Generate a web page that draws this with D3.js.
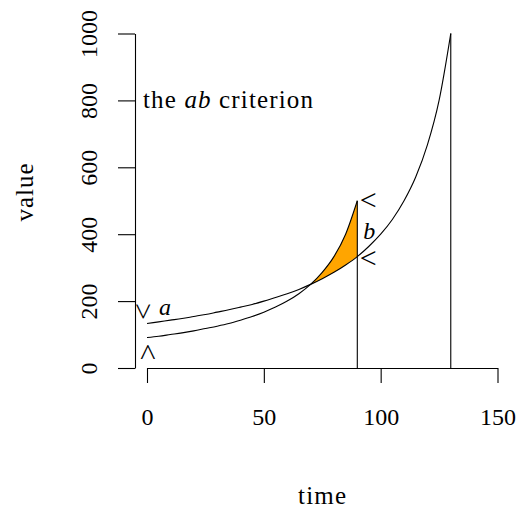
<!DOCTYPE html>
<html>
<head>
<meta charset="utf-8">
<script src="https://cdn.jsdelivr.net/npm/d3@7"></script>
<style>
    body { margin: 0; background: #fff; }
    svg { display: block; }
    text { font-family: "Liberation Serif", "DejaVu Serif", serif; fill: #000; }
</style>
</head>
<body>
<svg id="chart" width="523" height="513"></svg>
<script>
// values, every 5 time units
const TIMES = [0, 5, 10, 15, 20, 25, 30, 35, 40, 45, 50, 55, 60, 65, 70, 75, 80, 85, 90, 95, 100, 105, 110, 115, 120, 125, 130];
const SERIES_A = [133, 138, 143, 148, 154, 160, 167, 174, 182, 190, 200, 211, 222, 235, 250, 267, 286, 308, 333, 364, 400, 444, 500, 571, 667, 800, 1000];
const SERIES_B = [91, 95, 100, 105, 111, 118, 125, 133, 143, 154, 167, 182, 200, 222, 250, 286, 333, 400, 500];
const X_TICKS = [0, 50, 100, 150];
const Y_TICKS = [0, 200, 400, 600, 800, 1000];
const FILL_FROM = 70, FILL_TO = 90;

const SVG = d3.select("#chart");
const FONT = 24;

const x = d3.scaleLinear().domain([0, 150]).range([147, 497.5]);
const y = d3.scaleLinear().domain([0, 1000]).range([368, 33.5]);
const yAxisX = 135;

const aPts = TIMES.map((t, i) => ({ t, v: SERIES_A[i] }));
const bPts = SERIES_B.map((v, i) => ({ t: TIMES[i], v }));

// shaded region between the two curves
const fillPts = bPts
    .filter(d => d.t >= FILL_FROM && d.t <= FILL_TO)
    .map(d => ({ t: d.t, lo: SERIES_A[TIMES.indexOf(d.t)], hi: d.v }));

SVG.append("path")
    .datum(fillPts)
    .attr("fill", "orange")
    .attr("stroke", "none")
    .attr("d", d3.area()
        .x(d => x(d.t))
        .y0(d => y(d.lo))
        .y1(d => y(d.hi))
        .curve(d3.curveMonotoneX));

const line = d3.line().x(d => x(d.t)).y(d => y(d.v)).curve(d3.curveMonotoneX);

[aPts, bPts].forEach(pts => {
    SVG.append("path")
        .datum(pts)
        .attr("fill", "none")
        .attr("stroke", "#000")
        .attr("stroke-width", 1.1)
        .attr("d", line);
    const last = pts[pts.length - 1];
    // drop to zero at the end of the series
    SVG.append("line")
        .attr("x1", x(last.t)).attr("x2", x(last.t))
        .attr("y1", y(last.v)).attr("y2", y(0))
        .attr("stroke", "#000")
        .attr("stroke-width", 1.1);
});

// axes
const xAxis = SVG.append("g")
    .attr("transform", `translate(0,${y(0)})`)
    .call(d3.axisBottom(x).tickValues(X_TICKS).tickSize(15).tickSizeOuter(0).tickFormat(d3.format("d")));
xAxis.selectAll("text")
    .attr("y", 57)
    .attr("dy", 0)
    .style("font-size", FONT + "px");

const yAxis = SVG.append("g")
    .attr("transform", `translate(${yAxisX},0)`)
    .call(d3.axisLeft(y).tickValues(Y_TICKS).tickSize(17).tickSizeOuter(0).tickFormat(d3.format("d")));
yAxis.selectAll("text")
    .attr("transform", "rotate(-90)")
    .attr("x", 0)
    .attr("y", -38)
    .attr("dy", 0)
    .attr("text-anchor", "middle")
    .style("font-size", FONT + "px");

SVG.selectAll(".domain, .tick line").attr("stroke", "#000").attr("stroke-width", 1.1);

// axis titles
SVG.append("text")
    .attr("x", 322).attr("y", 504)
    .attr("text-anchor", "middle")
    .attr("textLength", 48)
    .attr("lengthAdjust", "spacing")
    .style("font-size", "25px")
    .text("time");

SVG.append("text")
    .attr("transform", "translate(33,192.5) rotate(-90)")
    .attr("text-anchor", "middle")
    .attr("textLength", 58)
    .attr("lengthAdjust", "spacing")
    .style("font-size", "25px")
    .text("value");

// title note
const note = SVG.append("text")
    .attr("x", 143).attr("y", 108)
    .attr("textLength", 170)
    .attr("lengthAdjust", "spacing")
    .style("font-size", "25px");
note.append("tspan").text("the ");
note.append("tspan").style("font-style", "italic").text("ab");
note.append("tspan").text(" criterion");

// markers at the curve ends: "<" glyph, turned for the vee / wedge
const mark = (cx, cy, angle) => SVG.append("text")
    .attr("transform", `translate(${cx},${cy}) rotate(${angle})`)
    .attr("text-anchor", "middle")
    .attr("dy", "0.25em")
    .style("font-size", "30px")
    .text("<");

mark(x(0) - 1.5, y(SERIES_A[0]) - 12, -90);
mark(x(0) - 1.5, y(0) - 16, 90);
SVG.append("text")
    .attr("x", x(0) + 12).attr("y", y(SERIES_A[0]) - 9)
    .style("font-size", FONT + "px")
    .style("font-style", "italic")
    .text("a");

const bLast = SERIES_B[SERIES_B.length - 1];
const aAtEnd = SERIES_A[TIMES.indexOf(FILL_TO)];
mark(x(FILL_TO) + 11, y(bLast) + 2, 0);
mark(x(FILL_TO) + 11, y(aAtEnd) + 3.5, 0);
SVG.append("text")
    .attr("x", x(FILL_TO) + 6).attr("y", (y(bLast) + y(aAtEnd)) / 2 + 10)
    .style("font-size", FONT + "px")
    .style("font-style", "italic")
    .text("b");
</script>
</body>
</html>
